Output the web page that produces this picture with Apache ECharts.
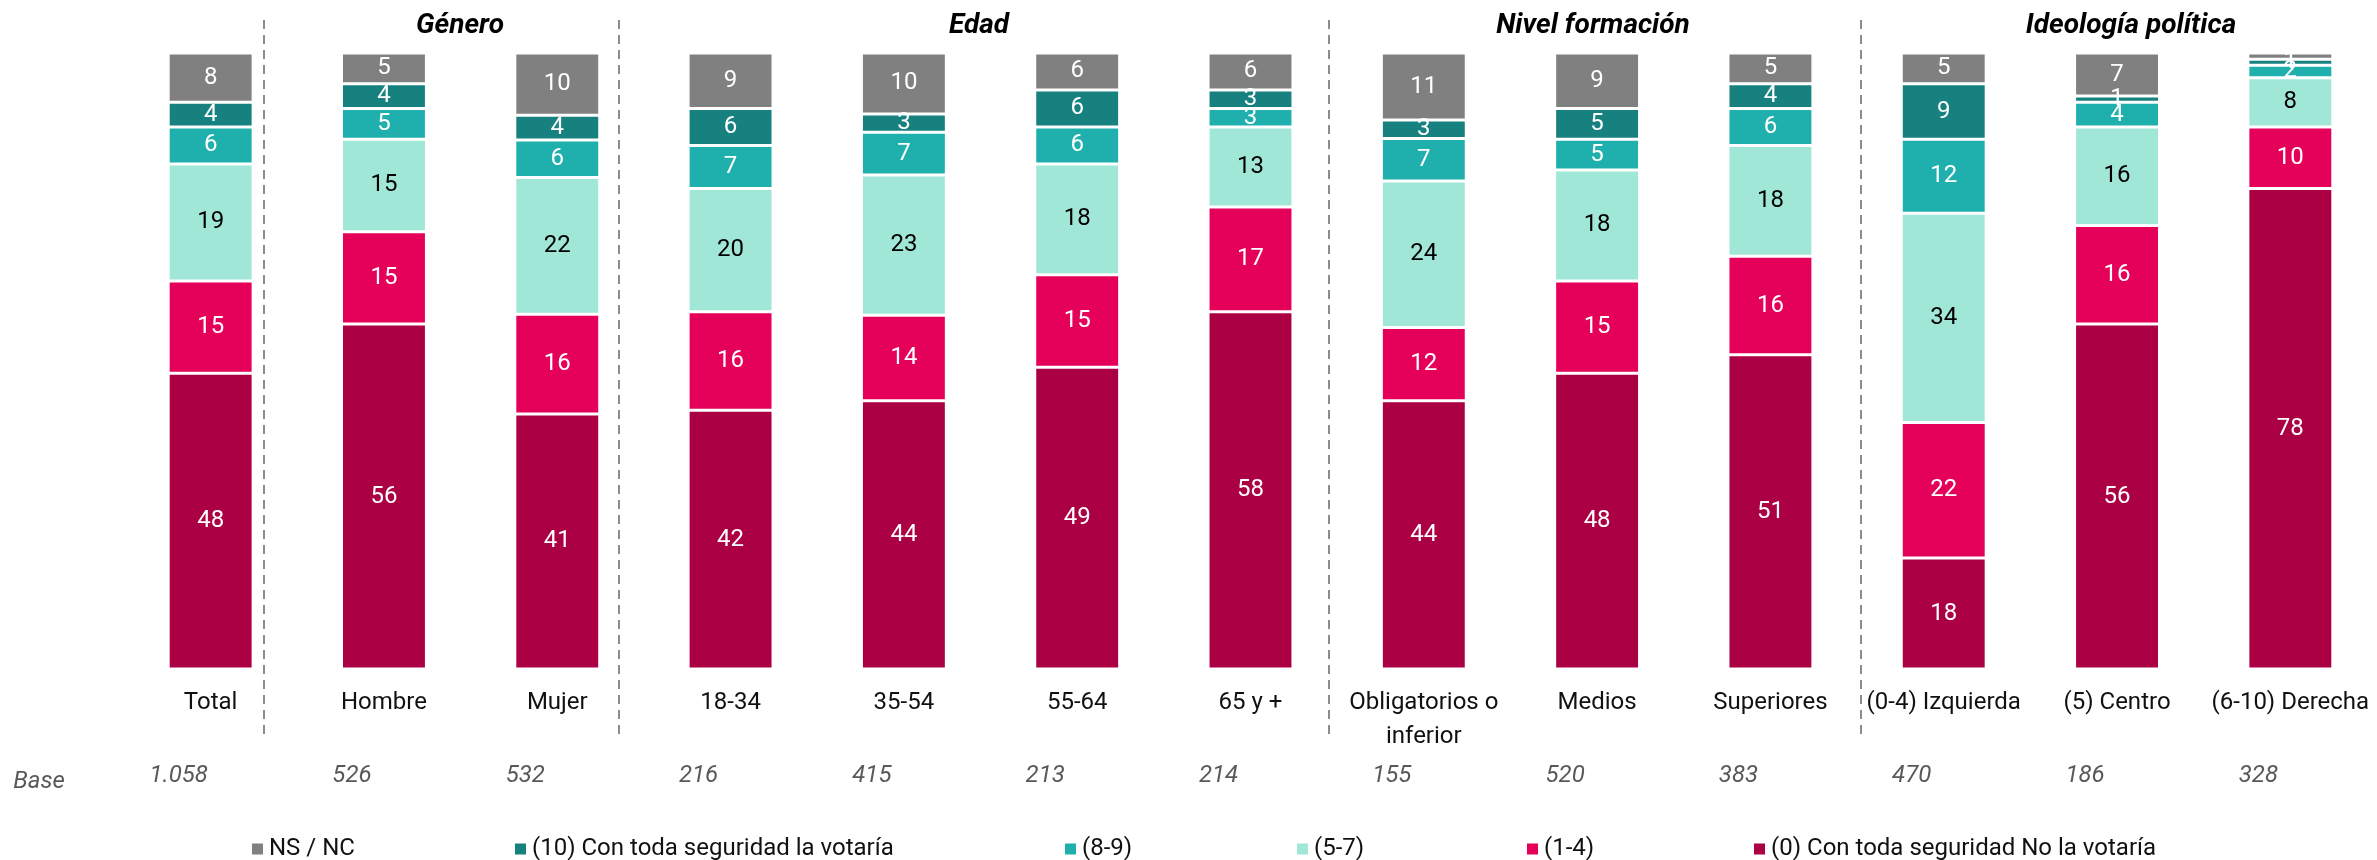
<!DOCTYPE html>
<html>
<head>
<meta charset="utf-8">
<script src="https://cdn.jsdelivr.net/npm/echarts@6/dist/echarts.min.js"></script>
<style>
  html, body { margin: 0; padding: 0; background: #fff; }
  #main { width: 2377px; height: 860px; }
</style>
</head>
<body>
<div id="main"></div>
<script>
// categorias y bases
var categorias = ['Total', 'Hombre', 'Mujer', '18-34', '35-54', '55-64', '65 y +',
  'Obligatorios o\ninferior', 'Medios', 'Superiores', '(0-4) Izquierda', '(5) Centro', '(6-10) Derecha'];
var bases = ['1.058', '526', '532', '216', '415', '213', '214', '155', '520', '383', '470', '186', '328'];

// valores (%) por serie, de abajo a arriba
var noVotaria = [48, 56, 41, 42, 44, 49, 58, 44, 48, 51, 18, 56, 78];
var v1a4 = [15, 15, 16, 16, 14, 15, 17, 12, 15, 16, 22, 16, 10];
var v5a7 = [19, 15, 22, 20, 23, 18, 13, 24, 18, 18, 34, 16, 8];
var v8a9 = [6, 5, 6, 7, 7, 6, 3, 7, 5, 6, 12, 4, 2];
var siVotaria = [4, 4, 4, 6, 3, 6, 3, 3, 5, 4, 9, 1, 1];
var nsnc = [8, 5, 10, 9, 10, 6, 6, 11, 9, 5, 5, 7, 1];

var grupos = ['Género', 'Edad', 'Nivel formación', 'Ideología política'];

var nombres = ['(0) Con toda seguridad No la votaría', '(1-4)', '(5-7)', '(8-9)',
  '(10) Con toda seguridad la votaría', 'NS / NC'];
var valores = [noVotaria, v1a4, v5a7, v8a9, siVotaria, nsnc];
var colores = ['#ab0044', '#e5005a', '#a1e7d8', '#1fb0ad', '#17817f', '#808080'];

var FONT = 'Roboto';

// 100% apilado
var totales = categorias.map(function (c, i) {
  var s = 0;
  for (var k = 0; k < valores.length; k++) s += valores[k][i];
  return s;
});

var series = nombres.map(function (n, k) {
  return {
    name: n,
    type: 'bar',
    stack: 'total',
    barWidth: '49%',
    itemStyle: { color: colores[k], borderColor: '#fff', borderWidth: 1.5 },
    label: {
      show: true,
      position: 'inside',
      fontFamily: FONT,
      fontSize: 24,
      color: k === 2 ? '#000' : '#fff',
      formatter: function (p) { return valores[k][p.dataIndex]; }
    },
    data: valores[k].map(function (v, i) { return v / totales[i] * 100; })
  };
});

// leyendas separadas para colocar cada elemento
var legendOrder = [5, 4, 3, 2, 1, 0];
var legendLeft = [245, 508, 1058, 1290, 1520, 1747];
var legends = legendOrder.map(function (k, j) {
  return {
    data: [nombres[k]],
    left: legendLeft[j],
    top: 832,
    itemWidth: 13,
    itemHeight: 13,
    icon: 'rect',
    selectedMode: false,
    textStyle: { fontFamily: FONT, fontSize: 24, color: '#111' }
  };
});

var graphics = [];
[264, 619, 1329, 1861].forEach(function (x) {
  graphics.push({
    type: 'line',
    shape: { x1: x, y1: 20, x2: x, y2: 740 },
    style: { stroke: '#8c8c8c', lineWidth: 2, lineDash: [9, 6] },
    silent: true
  });
});
[460, 979, 1593, 2131].forEach(function (x, i) {
  graphics.push({
    type: 'text',
    x: x, y: 26,
    style: {
      text: grupos[i], fontFamily: FONT, fontSize: 28, fontWeight: 'bold', fontStyle: 'italic',
      fill: '#000', align: 'center', verticalAlign: 'middle'
    }
  });
});
graphics.push({
  type: 'text',
  x: 39, y: 782,
  style: {
    text: 'Base', fontFamily: FONT, fontSize: 24, fontStyle: 'italic',
    fill: '#595959', align: 'center', verticalAlign: 'middle'
  }
});

var chart = echarts.init(document.getElementById('main'));
chart.setOption({
  backgroundColor: '#fff',
  animation: false,
  grid: { left: 124, right: 0, top: 53, bottom: 191 },
  legend: legends,
  xAxis: [
    {
      type: 'category',
      data: categorias,
      axisLine: { show: false },
      axisTick: { show: false },
      axisLabel: {
        interval: 0, margin: 17, fontFamily: FONT, fontSize: 24, color: '#111', lineHeight: 34
      }
    },
    {
      type: 'category',
      data: bases,
      position: 'bottom',
      offset: 95,
      axisLine: { show: false },
      axisTick: { show: false },
      axisLabel: {
        interval: 0, margin: 0, fontFamily: FONT, fontSize: 24, fontStyle: 'italic',
        color: '#595959', padding: [0, 64, 0, 0]
      }
    }
  ],
  yAxis: { type: 'value', min: 0, max: 100, show: false },
  series: series,
  graphic: graphics
});
</script>
</body>
</html>
